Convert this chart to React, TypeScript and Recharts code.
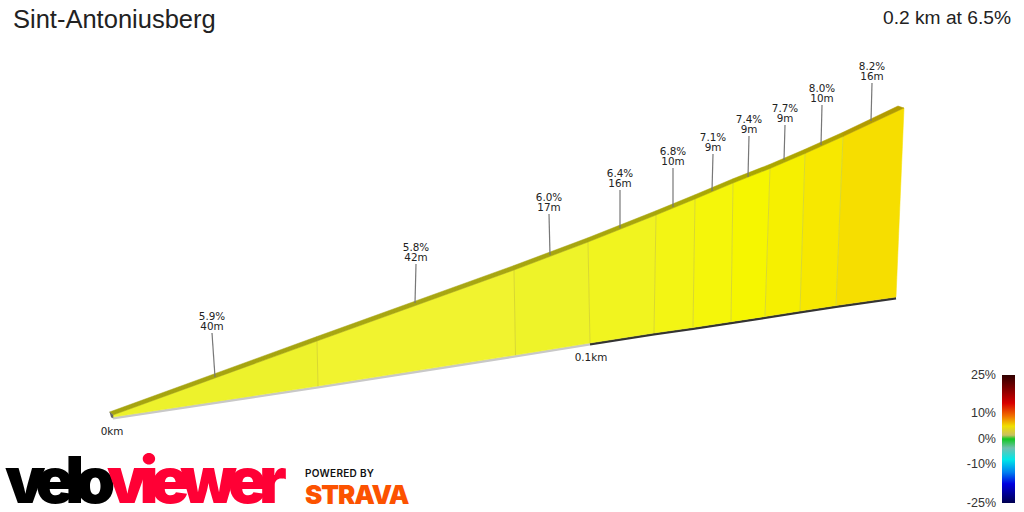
import { ScatterChart, Scatter, XAxis, YAxis } from 'recharts';

// one unit on either axis is a projected metre of the 3D view
const grades = ['5.9%', '5.8%', '6.0%', '6.4%', '6.8%', '7.1%', '7.4%', '7.7%', '8.0%', '8.2%'];
const lengths = ['40m', '42m', '17m', '16m', '10m', '9m', '9m', '9m', '10m', '16m'];

const topX = [0.6, 41.4, 80.8, 95.6, 109.2, 117, 124.6, 132, 139, 146.6, 158.8];
const topY = [0.6, 15.4, 29.6, 35.2, 40.6, 43.8, 47, 49.9, 52.9, 56.3, 62];
const rimX = [-0.1, 41.4, 80.8, 95.6, 109.2, 117, 124.6, 132, 139, 146.6, 157.6];
const rimY = [1.2, 16.3, 30.5, 36.05, 41.45, 44.65, 47.85, 50.75, 53.75, 57.15, 62.4];
const baseX = [0.6, 41.6, 81.1, 96, 108.8, 116.6, 124.2, 131, 138, 145.2, 157.2];
const baseY = [0.2, 6.4, 12.6, 15, 17, 18.1, 19.26, 20.3, 21.4, 22.5, 24.2];

const faceColors = ['#edf22c', '#f1f32f', '#eef329', '#f1f41f', '#f3f514', '#f5f60a', '#f6f600', '#f6f000', '#f7e800', '#f6de00'];
const rimColors = ['#a6a410', '#a8a612', '#a7a510', '#a8a60c', '#a9a708', '#aaa704', '#aba700', '#ada500', '#b0a200', '#b29b00'];

const leaderX = [21, 61, 88, 102, 112.6, 120.4, 127.6, 134.8, 142.2, 152.2];
const leaderY = [8.2, 23, 32.6, 38, 42.2, 45.4, 48.2, 51.6, 54.6, 59.4];
const leaderTopX = [20.4, 61.2, 87.8, 102, 112.6, 120.6, 127.8, 135, 142.4, 152.4];
const leaderTopY = [17, 30.8, 40.8, 45.6, 50, 52.8, 56.4, 58.6, 62.6, 67];

const capX = [-0.1, 0.6, 0.6, 0.2];
const capY = [1.2, 0.6, 0, 0.2];

const kmX = [0.4, 96.2];
const kmY = [0.2, 15];
const kmLabels = ['0km', '0.1km'];

const scaleLabels = ['25%', '10%', '0%', '-10%', '-25%'];
const scaleTops = [375, 413, 439, 464, 503];

const labelFont = '"DejaVu Sans", sans-serif';
const headFont = '"Liberation Sans", Arial, sans-serif';
const NoDot = () => <g />;

const pts = (xs: number[], ys: number[]) => xs.map((x, i) => ({ x, y: ys[i] }));

const quad = (ax: number[], ay: number[], bx: number[], by: number[], i: number) => [
  { x: ax[i], y: ay[i] },
  { x: ax[i + 1], y: ay[i + 1] },
  { x: bx[i + 1], y: by[i + 1] },
  { x: bx[i], y: by[i] },
];

const GradeLabel = (props: any) => (
  <text x={props.cx} y={props.cy - 13} textAnchor="middle" fontSize={10.4} fontFamily={labelFont} fill="#222">
    <tspan x={props.cx}>{props.payload.grade}</tspan>
    <tspan x={props.cx} dy={10}>{props.payload.length}</tspan>
  </text>
);

const KmLabel = (props: any) => (
  <text x={props.cx} y={props.cy + 18} textAnchor="middle" fontSize={10.4} fontFamily={labelFont} fill="#222">
    {props.payload.label}
  </text>
);

export default function App() {
  const segments = faceColors.map((_, i) => i);
  return (
    <div style={{ position: 'absolute', left: 0, top: 0, width: 1024, height: 512, background: '#fff', overflow: 'hidden' }}>
      <ScatterChart width={1024} height={512} margin={{ top: 0, right: 0, bottom: 0, left: 0 }}>
        <XAxis type="number" dataKey="x" domain={[-22, 182.8]} hide allowDataOverflow />
        <YAxis type="number" dataKey="y" domain={[-18.8, 83.6]} hide allowDataOverflow />

        <Scatter
          data={pts(baseX.slice(0, 4), baseY.slice(0, 4).map(v => v - 0.25))}
          line={{ stroke: '#c8c8c8', strokeWidth: 2.5, fill: 'none' }}
          shape={NoDot}
          isAnimationActive={false}
        />
        <Scatter
          data={pts(baseX.slice(3), baseY.slice(3).map(v => v - 0.25))}
          line={{ stroke: '#333333', strokeWidth: 2.5, fill: 'none' }}
          shape={NoDot}
          isAnimationActive={false}
        />

        {segments.map(i => (
          <Scatter
            key={`face-${i}`}
            data={quad(topX, topY, baseX, baseY, i)}
            line={{ stroke: faceColors[i], strokeWidth: 0.5, fill: faceColors[i] }}
            shape={NoDot}
            isAnimationActive={false}
          />
        ))}
        {segments.slice(1).map(i => (
          <Scatter
            key={`edge-${i}`}
            data={[{ x: topX[i], y: topY[i] }, { x: baseX[i], y: baseY[i] }]}
            line={{ stroke: '#d8d830', strokeWidth: 1, fill: 'none' }}
            shape={NoDot}
            isAnimationActive={false}
          />
        ))}
        {segments.map(i => (
          <Scatter
            key={`rim-${i}`}
            data={quad(rimX, rimY, topX, topY, i)}
            line={{ stroke: rimColors[i], strokeWidth: 0.5, fill: rimColors[i] }}
            shape={NoDot}
            isAnimationActive={false}
          />
        ))}
        <Scatter
          data={pts(capX, capY)}
          line={{ stroke: '#666', strokeWidth: 0.5, fill: '#666' }}
          shape={NoDot}
          isAnimationActive={false}
        />

        {segments.map(i => (
          <Scatter
            key={`leader-${i}`}
            data={[{ x: leaderX[i], y: leaderY[i] }, { x: leaderTopX[i], y: leaderTopY[i] }]}
            line={{ stroke: '#777', strokeWidth: 1.2, fill: 'none' }}
            shape={NoDot}
            isAnimationActive={false}
          />
        ))}
        <Scatter
          data={leaderTopX.map((x, i) => ({ x, y: leaderTopY[i], grade: grades[i], length: lengths[i] }))}
          shape={GradeLabel}
          isAnimationActive={false}
        />
        <Scatter
          data={kmX.map((x, i) => ({ x, y: kmY[i], label: kmLabels[i] }))}
          shape={KmLabel}
          isAnimationActive={false}
        />
      </ScatterChart>

      <div style={{ position: 'absolute', left: 13, top: 5, fontFamily: headFont, fontSize: 25.5, color: '#222', whiteSpace: 'nowrap' }}>
        Sint-Antoniusberg
      </div>
      <div style={{ position: 'absolute', right: 13, top: 7, fontFamily: headFont, fontSize: 19.2, color: '#222', whiteSpace: 'nowrap' }}>
        0.2 km at 6.5%
      </div>

      <div
        style={{
          position: 'absolute', left: 1002, top: 375, width: 13, height: 128,
          background: 'linear-gradient(to bottom, #300000 0%, #7a0000 10%, #d80000 22%, #f07000 32%, #f0e000 40%, #c8c060 47%, #10c820 50%, #70c0b0 57%, #00e8e8 66%, #0080f0 76%, #0000e0 85%, #000050 100%)',
        }}
      />
      {scaleLabels.map((t, i) => (
        <div
          key={t}
          style={{ position: 'absolute', right: 28, top: scaleTops[i] - 9, fontFamily: headFont, fontSize: 12.5, lineHeight: '18px', color: '#333' }}
        >
          {t}
        </div>
      ))}

      <svg width={420} height={92} style={{ position: 'absolute', left: 0, top: 420 }}>
        <text x={5} y={83} fontFamily="Inter" fontWeight={900} fontSize={64} letterSpacing={-9} fill="#000">velo</text>
        <text x={107} y={83} fontFamily="Inter" fontWeight={900} fontSize={64} letterSpacing={-8} fill="#ff0035">viewer</text>
        <text x={305} y={57} fontFamily="Inter" fontWeight={600} fontSize={10} letterSpacing={0.3} fill="#111">POWERED BY</text>
        <text x={305} y={84} fontFamily="Inter" fontWeight={900} fontSize={26} letterSpacing={-1.1} fill="#fc5200">STRAVA</text>
      </svg>
    </div>
  );
}
